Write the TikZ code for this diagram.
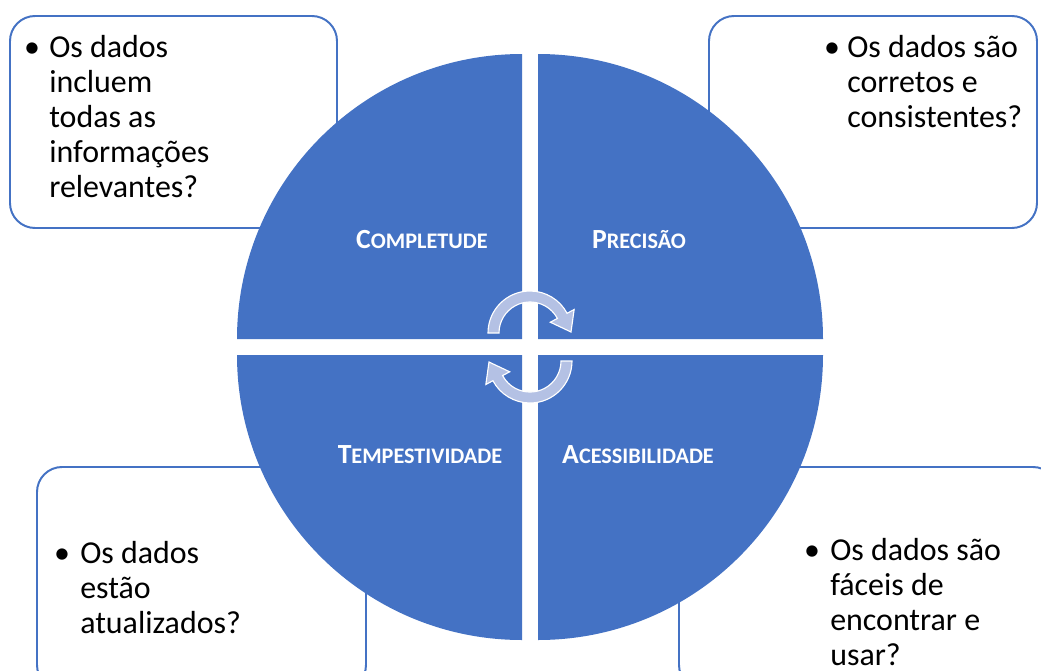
\documentclass[tikz,border=0pt]{standalone}
\usepackage{fontspec}
\setmainfont{Carlito}
\definecolor{qblue}{HTML}{4472C4}
\definecolor{arrowfill}{HTML}{B4C1E4}
\newcommand{\mysc}[2]{{\fontsize{19.7}{24}\selectfont #1}{\fontsize{15.8}{19}\selectfont #2}}
\tikzset{
  infobox/.style={draw=qblue, line width=1.4pt, fill=white, rounded corners=17.8pt},
  quad/.style={fill=qblue, draw=none},
  cyc/.style={fill=arrowfill, draw=white, line width=0.8pt, line join=miter},
  lab/.style={anchor=base, inner sep=0pt, text=white, font=\bfseries},
  bul/.style={anchor=base, inner sep=0pt, font=\fontsize{22.7}{24.9}\selectfont},
  body/.style={anchor=base west, inner sep=0pt, font=\fontsize{22.7}{24.9}\selectfont}
}
\begin{document}
\begin{tikzpicture}[x=0.025cm,y=0.025cm]
\useasboundingbox (0,0) rectangle (1041,-671);
\clip (0,0) rectangle (1041,-671);
\fill[white] (0,0) rectangle (1041,-671);

% boxes
\draw[infobox] (10,-16) rectangle (337,-228);
\draw[infobox] (709,-16) rectangle (1037,-228);
\draw[infobox] (37,-467) rectangle (366,-690);
\draw[infobox] (679,-467) rectangle (1058,-690);

% quadrants
\fill[quad] (522,-339) -- (237,-339) arc[start angle=180, end angle=90, radius=285] -- cycle;
\fill[quad] (538,-339) -- (823,-339) arc[start angle=0, end angle=90, radius=285] -- cycle;
\fill[quad] (522,-355) -- (237,-355) arc[start angle=180, end angle=270, radius=285] -- cycle;
\fill[quad] (538,-355) -- (823,-355) arc[start angle=0, end angle=-90, radius=285] -- cycle;

% cycle arrows
\begin{scope}[shift={(530,-333)}]
\draw[cyc] (180:42) arc[start angle=180, end angle=28, radius=42] -- (28:50) -- (41,1) -- (28:23) -- (28:31) arc[start angle=28, end angle=180, radius=31] -- cycle;
\end{scope}
\begin{scope}[rotate around={180:(530,-347)}]
\begin{scope}[shift={(530,-333)}]
\draw[cyc] (180:42) arc[start angle=180, end angle=28, radius=42] -- (28:50) -- (41,1) -- (28:23) -- (28:31) arc[start angle=28, end angle=180, radius=31] -- cycle;
\end{scope}
\end{scope}

% labels
\node[lab] (lc) at (422,-248) {\mysc{C}{OMPLETUDE}};
\node[lab] (lp) at (639,-248) {\mysc{P}{RECISÃO}};
\node[lab] (lt) at (420,-463) {\mysc{T}{EMPESTIVIDADE}};
\node[lab] (la) at (638,-463) {\mysc{A}{CESSIBILIDADE}};

% box texts
\node[bul] (b1) at (32,-57) {•};
\node[body] (t1) at (49,-57) {\begin{tabular}[t]{@{}l@{}}Os dados\\incluem\\todas as\\informações\\relevantes?\end{tabular}};
\node[bul] (b2) at (832,-57) {•};
\node[body] (t2) at (847,-57) {\begin{tabular}[t]{@{}l@{}}Os dados são\\corretos e\\consistentes?\end{tabular}};
\node[bul] (b3) at (62,-563) {•};
\node[body] (t3) at (80,-563) {\begin{tabular}[t]{@{}l@{}}Os dados\\estão\\atualizados?\end{tabular}};
\node[bul] (b4) at (812,-560) {•};
\node[body] (t4) at (830,-560) {\begin{tabular}[t]{@{}l@{}}Os dados são\\fáceis de\\encontrar e\\usar?\end{tabular}};
\end{tikzpicture}
\end{document}
